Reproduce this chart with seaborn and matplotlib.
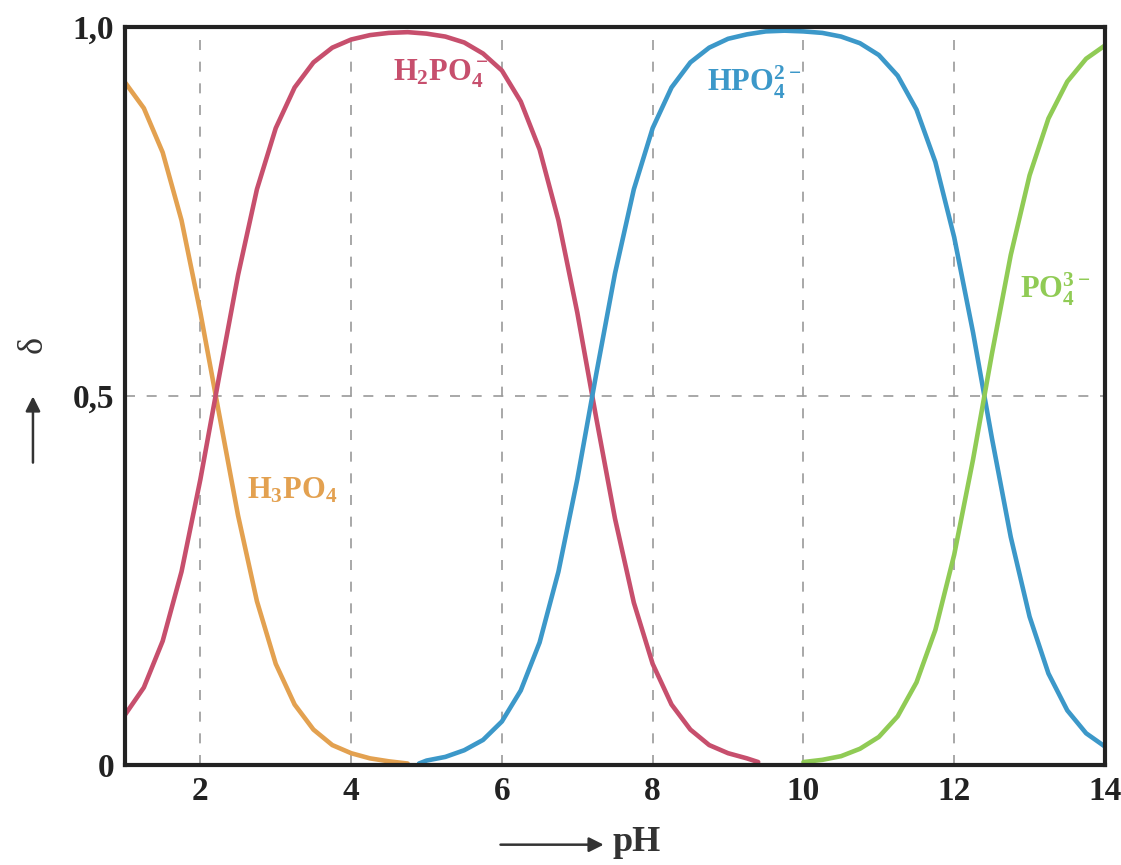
import numpy as np
import pandas as pd
import matplotlib
matplotlib.use("Agg")
import matplotlib.pyplot as plt
import seaborn as sns

# Werte (Phosphorsaeure, Anteil delta ueber pH)
ph_h3po4 = [1.00, 1.25, 1.50, 1.75, 2.00, 2.25, 2.50, 2.75, 3.00, 3.25, 3.50,
            3.75, 4.00, 4.25, 4.50, 4.75]
d_h3po4 = [0.925, 0.890, 0.830, 0.738, 0.613, 0.475, 0.338, 0.222, 0.137,
           0.082, 0.048, 0.027, 0.016, 0.009, 0.005, 0.002]

ph_h2po4 = [1.00, 1.25, 1.50, 1.75, 2.00, 2.25, 2.50, 2.75, 3.00, 3.25, 3.50,
            3.75, 4.00, 4.25, 4.50, 4.75, 5.00, 5.25, 5.50, 5.75, 6.00, 6.25,
            6.50, 6.75, 7.00, 7.25, 7.50, 7.75, 8.00, 8.25, 8.50, 8.75, 9.00,
            9.25, 9.40]
d_h2po4 = [0.068, 0.105, 0.168, 0.262, 0.387, 0.527, 0.664, 0.780, 0.863,
           0.918, 0.952, 0.972, 0.983, 0.989, 0.992, 0.993, 0.991, 0.987,
           0.979, 0.964, 0.941, 0.899, 0.834, 0.738, 0.613, 0.471, 0.334,
           0.220, 0.137, 0.082, 0.048, 0.027, 0.016, 0.009, 0.004]

ph_hpo4 = [4.90, 5.00, 5.25, 5.50, 5.75, 6.00, 6.25, 6.50, 6.75, 7.00, 7.25,
           7.50, 7.75, 8.00, 8.25, 8.50, 8.75, 9.00, 9.25, 9.50, 9.75, 10.00,
           10.25, 10.50, 10.75, 11.00, 11.25, 11.50, 11.75, 12.00, 12.25,
           12.50, 12.75, 13.00, 13.25, 13.50, 13.75, 14.00]
d_hpo4 = [0.002, 0.006, 0.011, 0.020, 0.034, 0.059, 0.101, 0.166, 0.262,
          0.387, 0.529, 0.666, 0.780, 0.863, 0.918, 0.952, 0.972, 0.984,
          0.990, 0.994, 0.995, 0.994, 0.992, 0.987, 0.978, 0.962, 0.934,
          0.888, 0.817, 0.715, 0.586, 0.443, 0.309, 0.201, 0.124, 0.074,
          0.043, 0.025]

ph_po4 = [10.00, 10.25, 10.50, 10.75, 11.00, 11.25, 11.50, 11.75, 12.00,
          12.25, 12.50, 12.75, 13.00, 13.25, 13.50, 13.75, 14.00]
d_po4 = [0.004, 0.007, 0.012, 0.022, 0.038, 0.066, 0.112, 0.183, 0.285,
         0.414, 0.557, 0.691, 0.799, 0.876, 0.926, 0.957, 0.975]

x_ticks = [2, 4, 6, 8, 10, 12, 14]
y_ticks = [0, 0.5, 1.0]
y_tick_labels = ["0", "0,5", "1,0"]

sns.set_style("white")
plt.rcParams['font.family'] = ['Liberation Serif', 'DejaVu Serif']
plt.rcParams['font.weight'] = 'bold'
plt.rcParams['mathtext.default'] = 'regular'

c_orange = '#E3A150'
c_red = '#C74F6D'
c_blue = '#3C98C9'
c_green = '#90CB55'

fig = plt.figure(figsize=(11.21, 8.65), dpi=100)
ax = fig.add_axes([0.1115, 0.1156, 0.8742, 0.8532])

# Hilfslinien (gestrichelt)
for x in x_ticks[:-1]:
    ax.axvline(x, color='#9a9a9a', lw=1.2, ls=(0, (6, 7)), zorder=0)
ax.axhline(0.5, color='#9a9a9a', lw=1.2, ls=(0, (6, 7)), zorder=0)

series = [
    (ph_h3po4, d_h3po4, c_orange),
    (ph_h2po4, d_h2po4, c_red),
    (ph_hpo4, d_hpo4, c_blue),
    (ph_po4, d_po4, c_green),
]
for xs, ys, col in series:
    df = pd.DataFrame({'pH': xs, 'delta': ys})
    sns.lineplot(data=df, x='pH', y='delta', ax=ax, color=col, lw=3.3,
                 sort=True, estimator=None, solid_joinstyle='round',
                 solid_capstyle='round')

ax.set_xlim(1, 14)
ax.set_ylim(0, 1)
ax.set_xticks(x_ticks)
ax.set_xticklabels([str(t) for t in x_ticks])
ax.set_yticks(y_ticks)
ax.set_yticklabels(y_tick_labels)
ax.tick_params(direction='in', length=10, width=2, labelsize=24, pad=8,
               colors='#222222')
ax.set_xlabel('')
ax.set_ylabel('')
for sp in ax.spines.values():
    sp.set_linewidth(3)
    sp.set_color('#222222')
    sp.set_visible(True)

# Beschriftungen der Spezies
ax.text(2.62, 0.372, r'H$_3$PO$_4$', color=c_orange, fontsize=22,
        fontweight='bold', va='center', ha='left')
ax.text(4.55, 0.937, r'H$_2$PO$_4^-$', color=c_red, fontsize=22,
        fontweight='bold', va='center', ha='left')
ax.text(8.72, 0.925, r'HPO$_4^{2-}$', color=c_blue, fontsize=22,
        fontweight='bold', va='center', ha='left')
ax.text(12.87, 0.645, r'PO$_4^{3-}$', color=c_green, fontsize=22,
        fontweight='bold', va='center', ha='left')

# Achsenbezeichnungen mit Pfeilen
ax.annotate('', xy=(0.541, 0.0235), xytext=(0.444, 0.0235),
            xycoords='figure fraction', textcoords='figure fraction',
            arrowprops=dict(arrowstyle='-|>', color='#333333', lw=1.8,
                            mutation_scale=22))
fig.text(0.546, 0.0255, 'pH', fontsize=26, fontweight='bold',
         color='#333333', va='center', ha='left')

ax.annotate('', xy=(0.0294, 0.545), xytext=(0.0294, 0.462),
            xycoords='figure fraction', textcoords='figure fraction',
            arrowprops=dict(arrowstyle='-|>', color='#333333', lw=1.8,
                            mutation_scale=22))
fig.text(0.0294, 0.602, 'δ', fontsize=26, rotation=90, color='#333333',
         va='center', ha='center', fontweight='normal')

fig.savefig('out.png', dpi=100)
